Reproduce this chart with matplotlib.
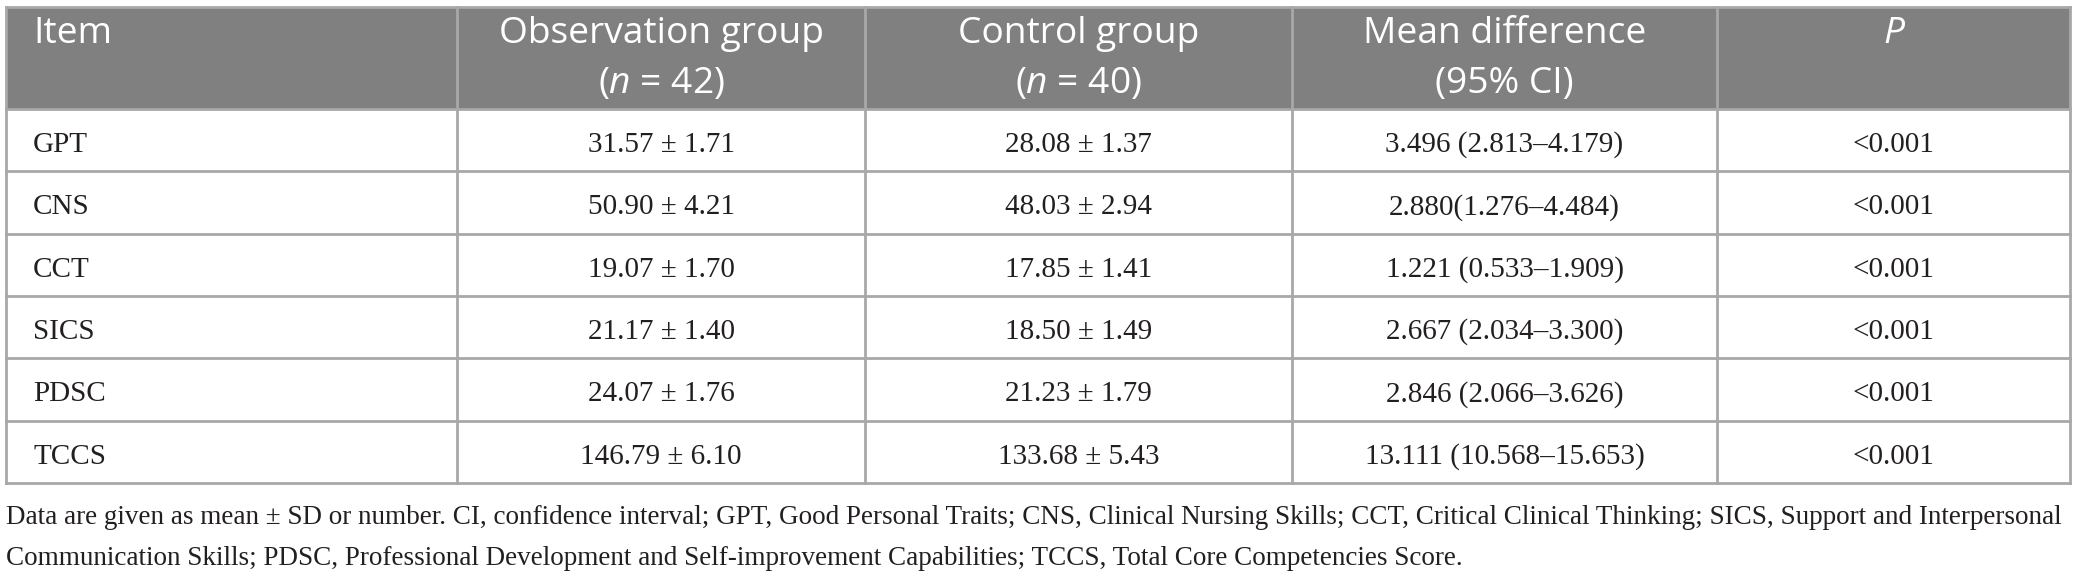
import matplotlib.pyplot as plt
from matplotlib.patches import Rectangle

plt.rcParams['mathtext.fontset'] = 'custom'
plt.rcParams['mathtext.rm'] = 'Open Sans'
plt.rcParams['mathtext.it'] = 'Open Sans:italic'

# table content
items = ["GPT", "CNS", "CCT", "SICS", "PDSC", "TCCS"]
obs_group = ["31.57 ± 1.71", "50.90 ± 4.21", "19.07 ± 1.70",
             "21.17 ± 1.40", "24.07 ± 1.76", "146.79 ± 6.10"]
ctrl_group = ["28.08 ± 1.37", "48.03 ± 2.94", "17.85 ± 1.41",
              "18.50 ± 1.49", "21.23 ± 1.79", "133.68 ± 5.43"]
mean_diff = ["3.496 (2.813–4.179)", "2.880(1.276–4.484)", "1.221 (0.533–1.909)",
             "2.667 (2.034–3.300)", "2.846 (2.066–3.626)", "13.111 (10.568–15.653)"]
p_values = ["<0.001", "<0.001", "<0.001", "<0.001", "<0.001", "<0.001"]

header_top = ["Item", "Observation group", "Control group", "Mean difference", "P"]
header_bottom = ["", r"($\mathit{n}$ = 42)", r"($\mathit{n}$ = 40)", "(95% CI)", ""]

footnote = [
    "Data are given as mean ± SD or number. CI, confidence interval; GPT, Good Personal Traits; "
    "CNS, Clinical Nursing Skills; CCT, Critical Clinical Thinking; SICS, Support and Interpersonal",
    "Communication Skills; PDSC, Professional Development and Self-improvement Capabilities; "
    "TCCS, Total Core Competencies Score.",
]

# layout (pixels)
W, H = 2075, 575
col_edges = [6, 457, 865, 1292, 1717, 2070]
top, head_bot, row_h = 7, 109, 62.3

HEAD_BG = '#808080'
GRID = '#a8a8a8'
INK = '#231f20'
SERIF = 'Liberation Serif'
SANS = 'Open Sans'

fig = plt.figure(figsize=(W / 100, H / 100), dpi=100)
ax = fig.add_axes([0, 0, 1, 1])
ax.set_xlim(0, W)
ax.set_ylim(H, 0)
ax.axis('off')
renderer = fig.canvas.get_renderer()


def fit_size(text, family, target, base=20, **kw):
    t = ax.text(0, 0, text, family=family, fontsize=base, **kw)
    w = t.get_window_extent(renderer).width
    t.remove()
    return base * target / w


head_fs = fit_size("Observation group", SANS, 325)
body_fs = 21
foot_fs = fit_size(footnote[0], SERIF, 2064)

n_rows = len(items)
bottom = head_bot + n_rows * row_h

# header background
ax.add_patch(Rectangle((col_edges[0], top), col_edges[-1] - col_edges[0], head_bot - top,
                       facecolor=HEAD_BG, edgecolor='none', zorder=0))

# grid lines
ys = [top, head_bot] + [head_bot + (i + 1) * row_h for i in range(n_rows)]
for y in ys:
    ax.plot([col_edges[0], col_edges[-1]], [y, y], color=GRID, lw=2, solid_capstyle='projecting', zorder=2)
for x in col_edges:
    ax.plot([x, x], [top, bottom], color=GRID, lw=2, solid_capstyle='projecting', zorder=2)

centers = [(a + b) / 2 for a, b in zip(col_edges[:-1], col_edges[1:])]

# header text
for j, (t1, t2) in enumerate(zip(header_top, header_bottom)):
    style = 'italic' if t1 == "P" else 'normal'
    if j == 0:
        ax.text(col_edges[0] + 27, top + 36, t1, family=SANS, fontsize=head_fs, color='white',
                ha='left', va='baseline', zorder=3)
        continue
    ax.text(centers[j], top + 36, t1, family=SANS, fontsize=head_fs, color='white',
            ha='center', va='baseline', style=style, zorder=3)
    if t2:
        ax.text(centers[j], top + 86, t2, family=SANS, fontsize=head_fs, color='white',
                ha='center', va='baseline', zorder=3)

# body text
columns = [items, obs_group, ctrl_group, mean_diff, p_values]
for i in range(n_rows):
    yb = head_bot + i * row_h + 43
    for j, col in enumerate(columns):
        if j == 0:
            ax.text(col_edges[0] + 27, yb, col[i], family=SERIF, fontsize=body_fs, color=INK,
                    ha='left', va='baseline', zorder=3)
        else:
            ax.text(centers[j], yb, col[i], family=SERIF, fontsize=body_fs, color=INK,
                    ha='center', va='baseline', zorder=3)

# footnote
for k, line in enumerate(footnote):
    ax.text(col_edges[0], 524 + k * 41, line, family=SERIF, fontsize=foot_fs, color=INK,
            ha='left', va='baseline')

fig.savefig('out.png', dpi=100, facecolor='white')
